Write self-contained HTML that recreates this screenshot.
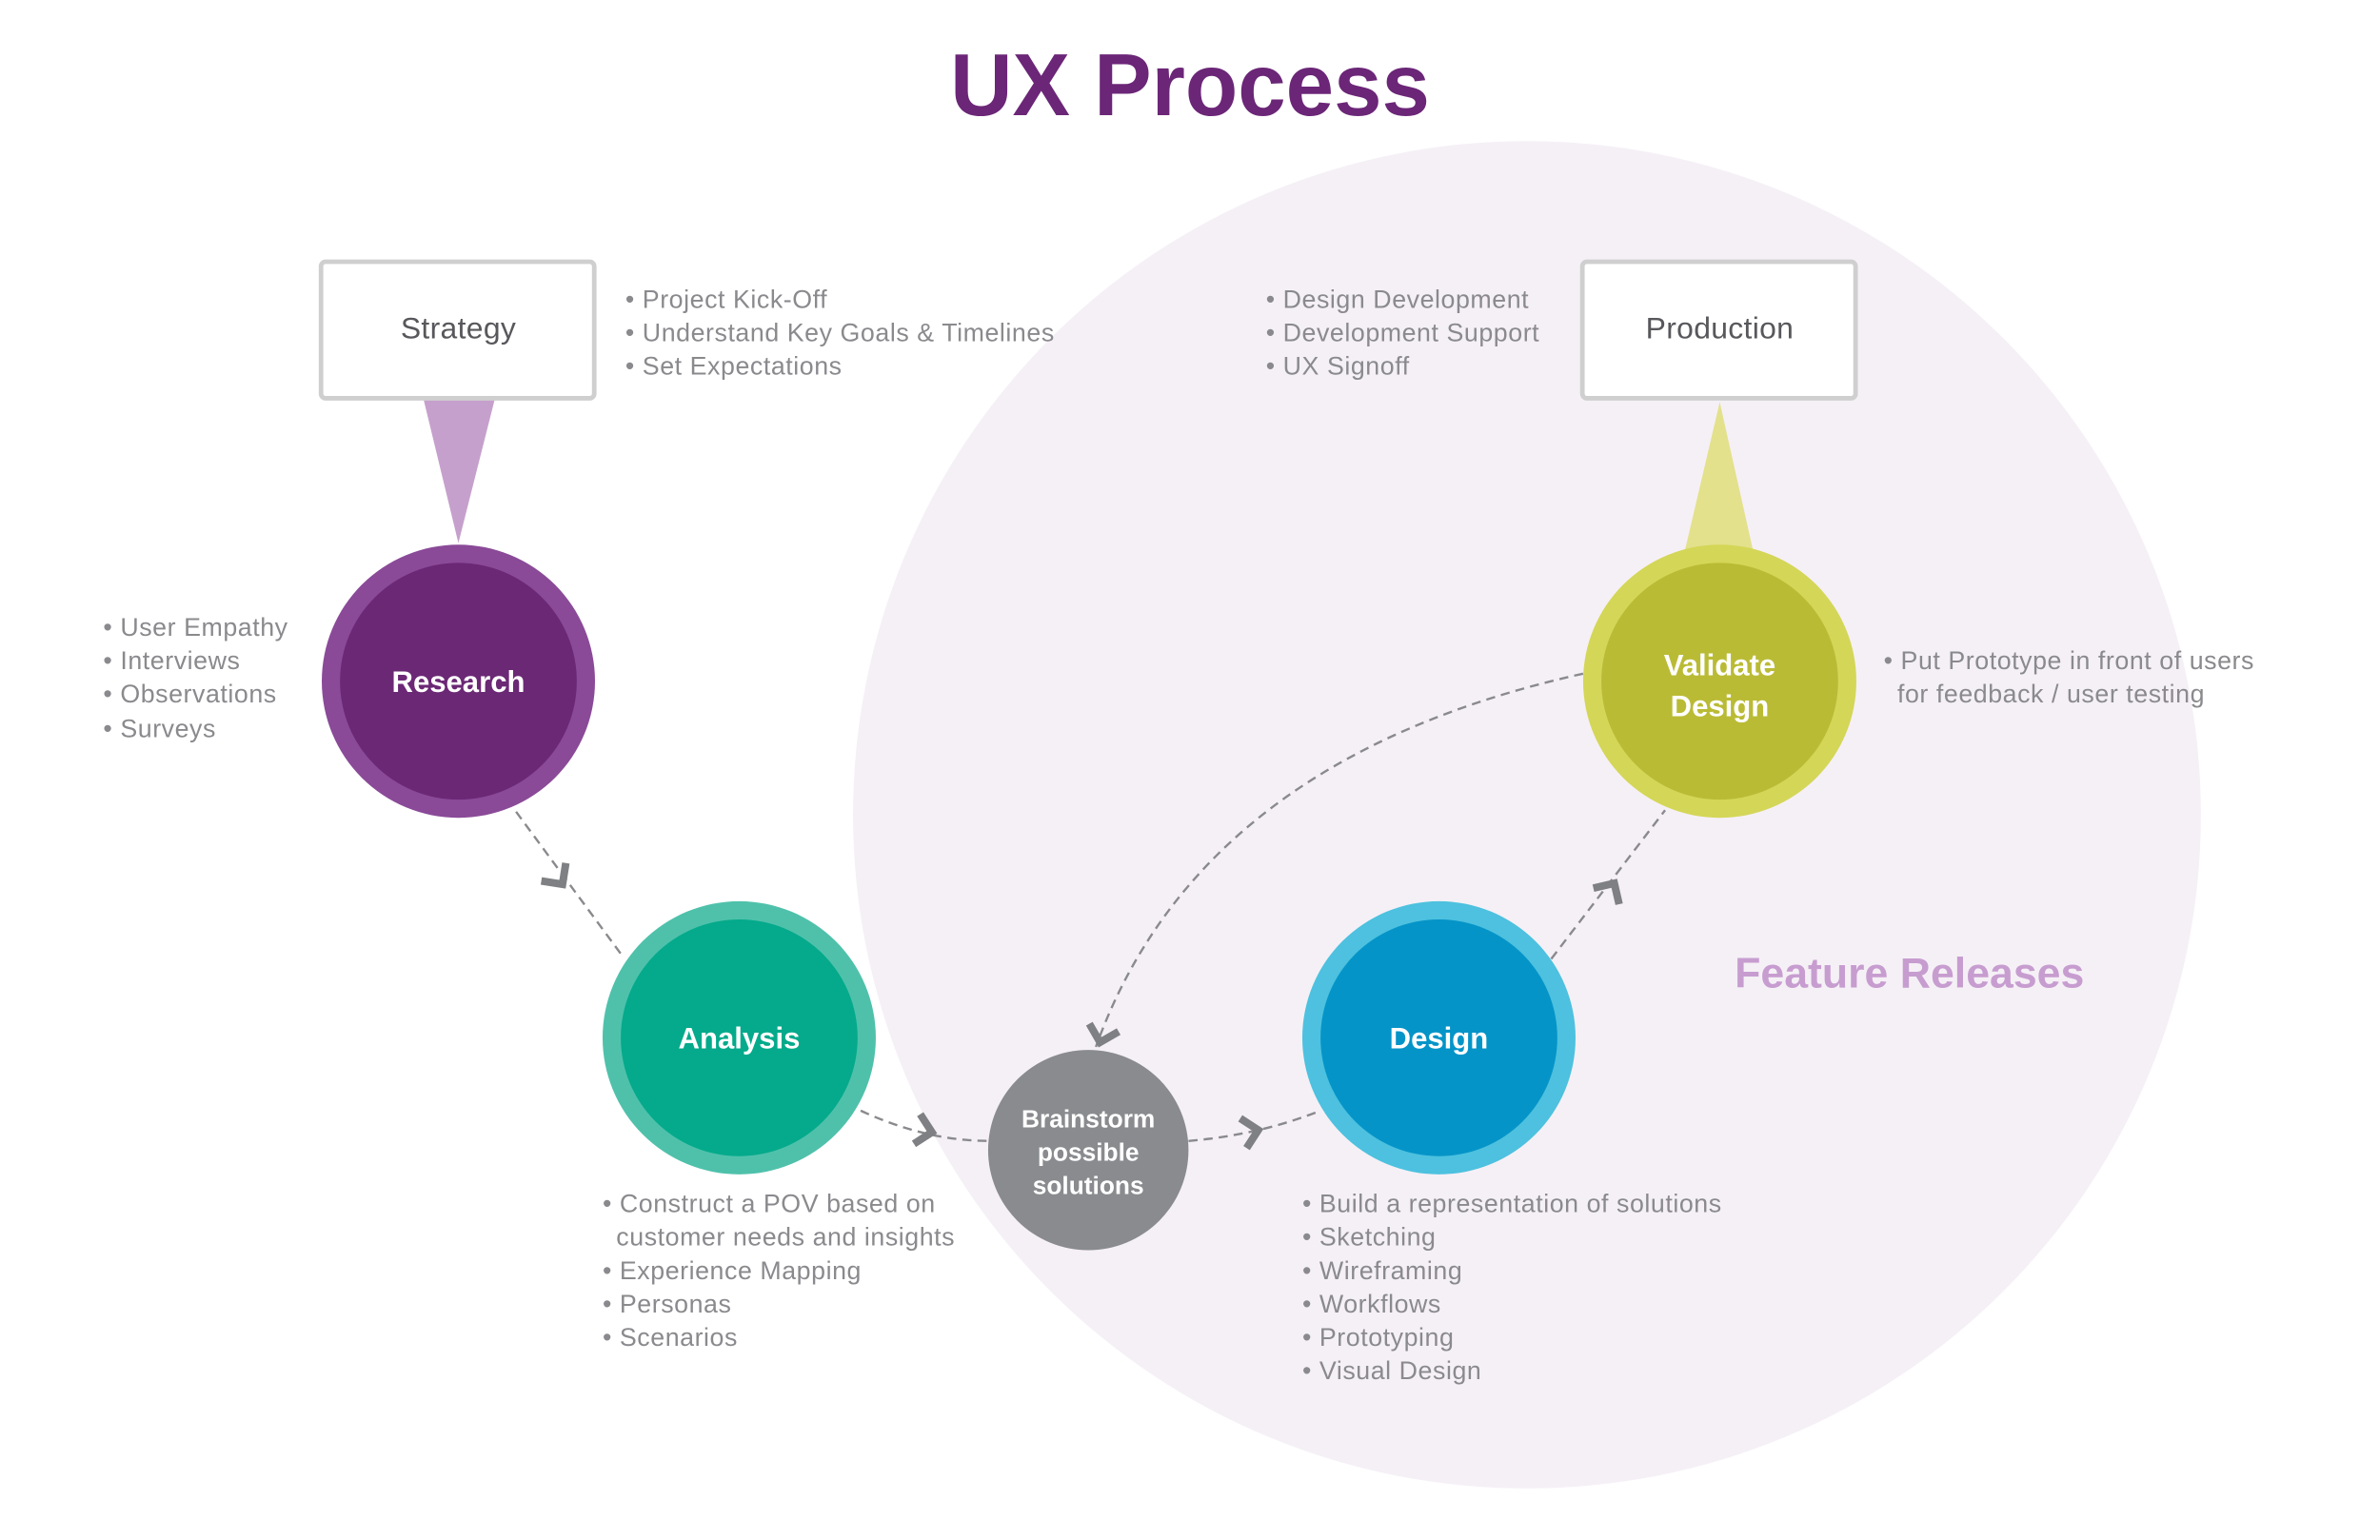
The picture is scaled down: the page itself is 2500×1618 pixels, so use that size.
<!DOCTYPE html>
<html><head><meta charset="utf-8"><style>
html,body{margin:0;padding:0;background:#fff;}
svg{display:block;}
text{font-family:"Liberation Sans",sans-serif;}
.b{font-size:16.8px;fill:#8a8a8e;letter-spacing:0.35px;}
.c{font-size:19.5px;font-weight:bold;fill:#fff;text-anchor:middle;}
.bx{font-size:20px;fill:#58585c;text-anchor:middle;letter-spacing:0.2px;}
.d{fill:none;stroke:#8a8a8e;stroke-width:1.5;stroke-dasharray:6 4;}
.a{fill:none;stroke:#7e8083;stroke-width:5;stroke-linejoin:miter;}
</style></head><body>
<svg width="2500" height="1618" viewBox="0 0 1568 1015" preserveAspectRatio="none">
<rect width="1568" height="1015" fill="#fff"/>
<circle cx="1006" cy="537" r="444" fill="#f5f0f6"/>
<text x="784" y="76" text-anchor="middle" font-size="58" font-weight="bold" fill="#6b2677" textLength="316" lengthAdjust="spacingAndGlyphs">UX Process</text>

<polygon points="279,263 326,263 302,358" fill="#c6a0cc"/>
<polygon points="1110,363 1155,363 1133,265" fill="#e3e18c"/>
<rect x="211.5" y="172.5" width="180" height="90" rx="3" fill="#fff" stroke="#cfcfcf" stroke-width="3"/>
<rect x="1042.5" y="172.5" width="180" height="90" rx="3" fill="#fff" stroke="#cfcfcf" stroke-width="3"/>
<text class="bx" x="302" y="223">Strategy</text>
<text class="bx" x="1133" y="223">Production</text>

<path class="d" d="M340,535 L410,630"/>
<path class="d" d="M567,732 Q610,752 652,752"/>
<path class="d" d="M783,752 Q830,748 870,732"/>
<path class="d" d="M1022,632 L1097,534"/>
<path class="d" d="M1043,444 Q790,500 722,690"/>
<g transform="translate(370,582) rotate(54)"><path class="a" d="M-9,-10 L1,0 L-9,10"/></g>
<g transform="translate(613,746) rotate(12)"><path class="a" d="M-9,-10 L1,0 L-9,10"/></g>
<g transform="translate(828,745) rotate(-12)"><path class="a" d="M-9,-10 L1,0 L-9,10"/></g>
<g transform="translate(1063,583) rotate(-58)"><path class="a" d="M-9,-10 L1,0 L-9,10"/></g>
<g transform="translate(725,686) rotate(105)"><path class="a" d="M-9,-10 L1,0 L-9,10" stroke="#a3a5a8"/></g>

<circle cx="302" cy="449" r="90" fill="#8a4a98"/><circle cx="302" cy="449" r="78" fill="#6b2875"/>
<circle cx="487" cy="684" r="90" fill="#4fc1ab"/><circle cx="487" cy="684" r="78" fill="#04aa8b"/>
<circle cx="948" cy="684" r="90" fill="#4dc1df"/><circle cx="948" cy="684" r="78" fill="#0594c8"/>
<circle cx="1133" cy="449" r="90" fill="#d4d657"/><circle cx="1133" cy="449" r="78" fill="#babb35"/>
<circle cx="717" cy="758" r="66" fill="#898b8e"/>

<text class="c" x="302" y="456">Research</text>
<text class="c" x="487" y="691">Analysis</text>
<text class="c" x="948" y="691">Design</text>
<text class="c" x="1133" y="445">Validate</text>
<text class="c" x="1133" y="472">Design</text>
<text class="c" x="717" y="743" style="font-size:16.5px">Brainstorm</text>
<text class="c" x="717" y="765" style="font-size:16.5px">possible</text>
<text class="c" x="717" y="787" style="font-size:16.5px">solutions</text>

<text x="1258" y="651" text-anchor="middle" font-size="28" font-weight="bold" fill="#c79dd0">Feature Releases</text>

<g class="b">
<text x="412" y="203">• Project Kick-Off</text>
<text x="412" y="225">• Understand Key Goals &amp; Timelines</text>
<text x="412" y="247">• Set Expectations</text>
<text x="834" y="203">• Design Development</text>
<text x="834" y="225">• Development Support</text>
<text x="834" y="247">• UX Signoff</text>
<text x="68" y="419">• User Empathy</text>
<text x="68" y="441">• Interviews</text>
<text x="68" y="463">• Observations</text>
<text x="68" y="486">• Surveys</text>
<text x="1241" y="441">• Put Prototype in front of users</text>
<text x="1250" y="463">for feedback / user testing</text>
<text x="397" y="799">• Construct a POV based on</text>
<text x="406" y="821">customer needs and insights</text>
<text x="397" y="843">• Experience Mapping</text>
<text x="397" y="865">• Personas</text>
<text x="397" y="887">• Scenarios</text>
<text x="858" y="799">• Build a representation of solutions</text>
<text x="858" y="821">• Sketching</text>
<text x="858" y="843">• Wireframing</text>
<text x="858" y="865">• Workflows</text>
<text x="858" y="887">• Prototyping</text>
<text x="858" y="909">• Visual Design</text>
</g>
</svg>
</body></html>
